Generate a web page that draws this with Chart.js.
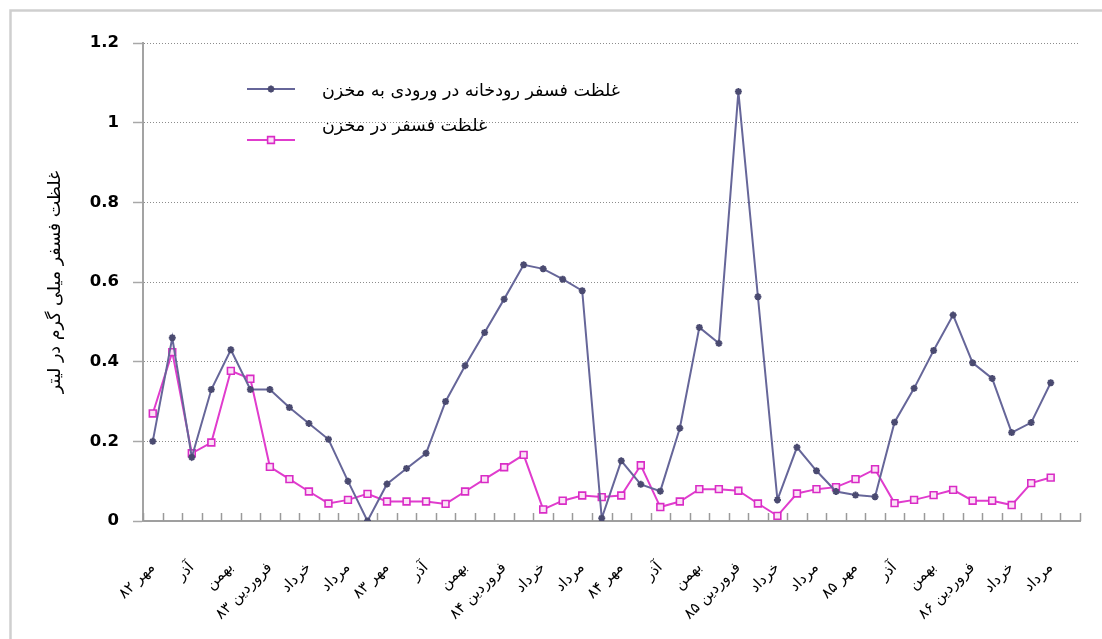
<!DOCTYPE html>
<html>
<head>
<meta charset="utf-8">
<script src="https://cdn.jsdelivr.net/npm/chart.js@4.4.1/dist/chart.umd.min.js"></script>
<style>
  html, body { margin: 0; padding: 0; background: #ffffff; }
  #wrap { width: 1102px; height: 639px; position: relative; }
</style>
</head>
<body>
<div id="wrap"><canvas id="c" width="1102" height="639"></canvas></div>
<script>
// ---- data ----
const months = [
  'مهر ۸۲','آبان ۸۲','آذر ۸۲','دی ۸۲','بهمن ۸۲','اسفند ۸۲',
  'فروردین ۸۳','اردیبهشت ۸۳','خرداد ۸۳','تیر ۸۳','مرداد ۸۳','شهریور ۸۳',
  'مهر ۸۳','آبان ۸۳','آذر ۸۳','دی ۸۳','بهمن ۸۳','اسفند ۸۳',
  'فروردین ۸۴','اردیبهشت ۸۴','خرداد ۸۴','تیر ۸۴','مرداد ۸۴','شهریور ۸۴',
  'مهر ۸۴','آبان ۸۴','آذر ۸۴','دی ۸۴','بهمن ۸۴','اسفند ۸۴',
  'فروردین ۸۵','اردیبهشت ۸۵','خرداد ۸۵','تیر ۸۵','مرداد ۸۵','شهریور ۸۵',
  'مهر ۸۵','آبان ۸۵','آذر ۸۵','دی ۸۵','بهمن ۸۵','اسفند ۸۵',
  'فروردین ۸۶','اردیبهشت ۸۶','خرداد ۸۶','تیر ۸۶','مرداد ۸۶','شهریور ۸۶'
];
const tickLabels = [
  'مهر ۸۲','آذر','بهمن','فروردین ۸۳','خرداد','مرداد',
  'مهر ۸۳','آذر','بهمن','فروردین ۸۴','خرداد','مرداد',
  'مهر ۸۴','آذر','بهمن','فروردین ۸۵','خرداد','مرداد',
  'مهر ۸۵','آذر','بهمن','فروردین ۸۶','خرداد','مرداد'
];
const riverInflow = [
  0.20, 0.46, 0.16, 0.33, 0.43, 0.33, 0.33, 0.285, 0.245, 0.205, 0.10, 0.0,
  0.093, 0.132, 0.17, 0.30, 0.39, 0.473, 0.557, 0.643, 0.633, 0.607, 0.578, 0.007,
  0.151, 0.092, 0.075, 0.233, 0.486, 0.446, 1.078, 0.563, 0.053, 0.185, 0.126, 0.074,
  0.065, 0.061, 0.248, 0.333, 0.428, 0.517, 0.397, 0.358, 0.222, 0.247, 0.347
];
const reservoir = [
  0.27, 0.424, 0.17, 0.197, 0.377, 0.357, 0.136, 0.105, 0.074, 0.044, 0.053, 0.068,
  0.049, 0.049, 0.049, 0.043, 0.074, 0.105, 0.135, 0.166, 0.029, 0.051, 0.064, 0.06,
  0.064, 0.14, 0.035, 0.049, 0.08, 0.08, 0.076, 0.044, 0.013, 0.069, 0.08, 0.085,
  0.105, 0.13, 0.045, 0.053, 0.065, 0.078, 0.051, 0.051, 0.04, 0.095, 0.109
];
const seriesNames = ['غلظت فسفر رودخانه در ورودی به مخزن', 'غلظت فسفر در مخزن'];
const yTitle = 'غلظت فسفر میلی گرم در لیتر';

const FONT = '"DejaVu Sans", "Noto Sans", sans-serif';

// frame (top & left light border)
const framePlugin = {
  id: 'frame',
  beforeDraw(chart) {
    const ctx = chart.ctx;
    ctx.save();
    ctx.strokeStyle = '#cfcfcf';
    ctx.lineWidth = 2.5;
    ctx.beginPath();
    ctx.moveTo(10.5, chart.height + 5);
    ctx.lineTo(10.5, 10.5);
    ctx.lineTo(chart.width + 5, 10.5);
    ctx.stroke();
    ctx.restore();
  }
};

// inward x-axis tick marks at category boundaries
const xTicksPlugin = {
  id: 'xTicksIn',
  afterDatasetsDraw(chart) {
    const xs = chart.scales.x;
    const ctx = chart.ctx;
    const n = xs.ticks.length;
    const step = (xs.right - xs.left) / n;
    ctx.save();
    ctx.strokeStyle = '#9a9a9a';
    ctx.lineWidth = 1.5;
    ctx.beginPath();
    for (let i = 0; i <= n; i++) {
      const x = Math.round(xs.left + i * step) + 0.5;
      ctx.moveTo(x, xs.top);
      ctx.lineTo(x, xs.top - 8);
    }
    ctx.stroke();
    ctx.restore();
  }
};

// legend inside plot area
const legendPlugin = {
  id: 'innerLegend',
  afterDraw(chart) {
    const ctx = chart.ctx;
    const ca = chart.chartArea;
    const x0 = ca.left + 104, x1 = ca.left + 152, tx = ca.left + 179;
    const rows = [
      { lineY: ca.top + 46, textY: ca.top + 48 },
      { lineY: ca.top + 97, textY: ca.top + 83 }
    ];
    chart.data.datasets.forEach((ds, i) => {
      const r = rows[i];
      ctx.save();
      ctx.strokeStyle = ds.borderColor;
      ctx.lineWidth = 2;
      ctx.beginPath();
      ctx.moveTo(x0, r.lineY);
      ctx.lineTo(x1, r.lineY);
      ctx.stroke();
      ctx.restore();
      ctx.save();
      ctx.fillStyle = ds.pointBackgroundColor;
      ctx.strokeStyle = ds.pointBorderColor;
      ctx.lineWidth = ds.pointBorderWidth;
      Chart.helpers.drawPoint(ctx, {
        pointStyle: ds.pointStyle,
        radius: ds.pointRadius,
        borderWidth: ds.pointBorderWidth,
        rotation: 0
      }, (x0 + x1) / 2, r.lineY);
      ctx.restore();
      ctx.save();
      ctx.fillStyle = '#000';
      ctx.font = '17.5px ' + FONT;
      ctx.textAlign = 'left';
      ctx.textBaseline = 'middle';
      ctx.fillText(ds.label, tx, r.textY);
      ctx.restore();
    });
  }
};

new Chart(document.getElementById('c'), {
  type: 'line',
  data: {
    labels: months,
    datasets: [
      {
        label: seriesNames[0],
        data: riverInflow,
        borderColor: '#666699',
        borderWidth: 2,
        pointStyle: 'star',
        pointRadius: 3.5,
        pointBorderWidth: 2,
        pointBackgroundColor: '#4a4a70',
        pointBorderColor: '#4a4a70',
        tension: 0,
        fill: false
      },
      {
        label: seriesNames[1],
        data: reservoir,
        borderColor: '#e03ccd',
        borderWidth: 2,
        pointStyle: 'rect',
        pointRadius: 4.8,
        pointBorderWidth: 1.6,
        pointBackgroundColor: '#fbe2f6',
        pointBorderColor: '#d92cc6',
        tension: 0,
        fill: false
      }
    ]
  },
  options: {
    responsive: false,
    animation: false,
    devicePixelRatio: 1,
    layout: { padding: { left: 38, top: 43, right: 22, bottom: 0 } },
    plugins: {
      legend: { display: false },
      tooltip: { enabled: false }
    },
    scales: {
      x: {
        type: 'category',
        offset: true,
        grid: { display: false },
        border: { display: true, color: '#9f9f9f', width: 2 },
        ticks: {
          autoSkip: false,
          minRotation: 45,
          maxRotation: 45,
          padding: 30,
          color: '#000',
          font: { family: FONT, size: 15 },
          callback: (v, i) => (i % 2 === 0 ? tickLabels[i / 2] : '')
        },
        afterFit: (s) => { s.height = 118; s.paddingLeft = 0; s.paddingRight = 0; }
      },
      y: {
        min: 0,
        max: 1.2,
        ticks: {
          stepSize: 0.2,
          padding: 14,
          color: '#000',
          font: { family: FONT, size: 16.5, weight: 'bold' },
          callback: (v) => String(Math.round(v * 10) / 10)
        },
        grid: {
          color: (c) => (c.tick && c.tick.value === 0 ? 'rgba(0,0,0,0)' : '#8c8c8c'),
          lineWidth: 1,
          drawTicks: true,
          tickLength: 10,
          tickColor: '#a8a8a8',
          tickWidth: 1.5,
          tickBorderDash: []
        },
        border: { display: true, color: '#a3a3a3', width: 2, dash: [1, 2] },
        title: {
          display: true,
          text: yTitle,
          color: '#000',
          font: { family: FONT, size: 17.5 },
          padding: { top: 7, bottom: 0 }
        },
        afterFit: (s) => { s.width = 105; }
      }
    }
  },
  plugins: [framePlugin, xTicksPlugin, legendPlugin]
});
</script>
</body>
</html>
